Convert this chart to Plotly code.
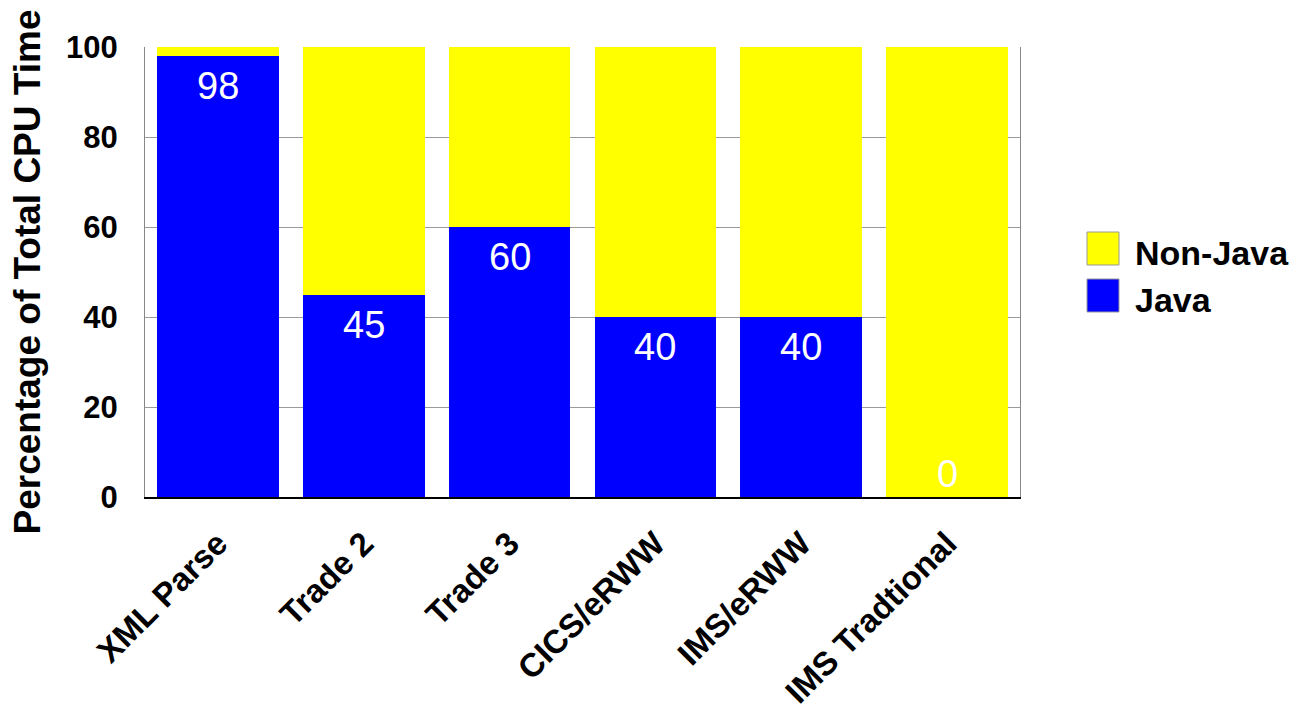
import plotly.graph_objects as go

categories = ["XML Parse", "Trade 2", "Trade 3", "CICS/eRWW", "IMS/eRWW", "IMS Tradtional"]
java = [98, 45, 60, 40, 40, 0]
non_java = [2, 55, 40, 60, 60, 100]
y_ticks = [0, 20, 40, 60, 80, 100]
series_names = ["Java", "Non-Java"]
series_colors = ["#0000FF", "#FFFF00"]

FONT = "Liberation Sans, Arial, sans-serif"

fig = go.Figure()
for name, vals, col in zip(series_names, [java, non_java], series_colors):
    fig.add_trace(go.Bar(x=categories, y=vals, name=name, showlegend=False,
                         marker=dict(color=col, line=dict(width=0))))

for c, v in zip(categories, java):
    if v > 0:
        fig.add_annotation(x=c, y=v, text=str(v), showarrow=False, yanchor="top", yshift=-7,
                           font=dict(family=FONT, size=38, color="white"))
    else:
        fig.add_annotation(x=c, y=v, text=str(v), showarrow=False, yanchor="bottom", yshift=0,
                           font=dict(family=FONT, size=38, color="white"))

# custom legend (larger swatches), Non-Java on top
legend_items = list(zip(series_names, series_colors))[::-1]
for i, (name, col) in enumerate(legend_items):
    y_top = 232 + i * 47
    fig.add_shape(type="rect", xref="paper", yref="paper",
                  x0=(1087 - 145) / 875, x1=(1119 - 145) / 875,
                  y0=1 - (y_top + 33 - 47) / 450, y1=1 - (y_top - 47) / 450,
                  fillcolor=col, line=dict(color="#999999", width=1))
    fig.add_annotation(xref="paper", yref="paper", x=(1133 - 145) / 875,
                       y=1 - (y_top + 21 - 47) / 450, text=name, showarrow=False,
                       xanchor="left", yanchor="middle",
                       font=dict(family=FONT, size=34, color="black", weight="bold"))

fig.update_layout(
    barmode="stack",
    bargap=0.165,
    width=1299, height=719,
    margin=dict(l=145, r=279, t=47, b=222),
    paper_bgcolor="white", plot_bgcolor="white",
    font=dict(family=FONT, color="black"),
    showlegend=False,
)
fig.update_xaxes(tickangle=-45, tickfont=dict(family=FONT, size=33, color="black", weight="bold"),
                 showline=True, linecolor="black", linewidth=2, mirror=False, ticks="",
                 ticklabelstandoff=12, automargin=False)
fig.update_yaxes(range=[0, 100], tickvals=y_ticks, tickfont=dict(family=FONT, size=31, color="black", weight="bold"),
                 showgrid=True, gridcolor="#9a9a9a", gridwidth=1,
                 showline=True, linecolor="#888888", linewidth=1, mirror=True, ticks="",
                 ticklabelstandoff=20, automargin=False,
                 title=dict(text="Percentage of Total CPU Time", font=dict(family=FONT, size=37, color="black", weight="bold"), standoff=14))
fig.write_html("out.html")
